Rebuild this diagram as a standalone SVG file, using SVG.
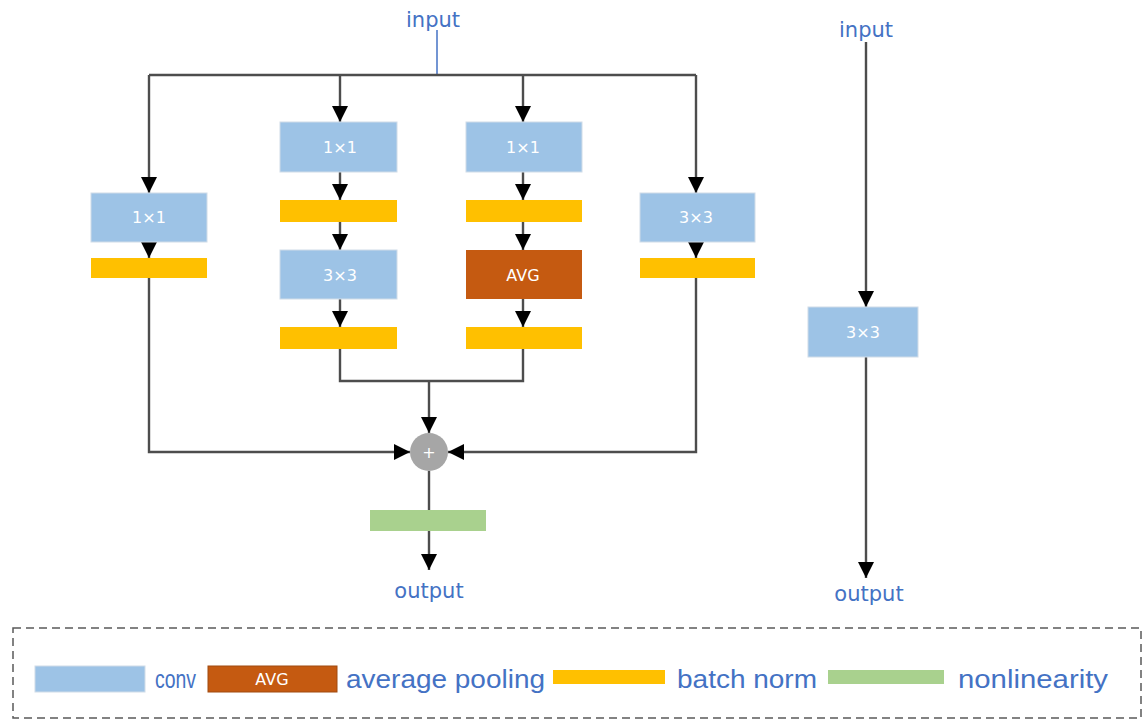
<svg xmlns="http://www.w3.org/2000/svg" width="1148" height="722" viewBox="0 0 1148 722">
<style>
.conv{fill:#9DC3E6;stroke:#D0DCE8;stroke-width:1}
.bn{fill:#FFC000}
.avg{fill:#C55A11}
.nl{fill:#A9D18E}
.bt{font-family:"DejaVu Sans","Liberation Sans",sans-serif;font-size:16px;fill:#FFFFFF;text-anchor:middle}
.io{font-family:"DejaVu Sans","Liberation Sans",sans-serif;font-size:21px;fill:#4472C4;text-anchor:middle}
.lg{font-family:"Liberation Sans",Arial,sans-serif;font-size:25px;fill:#4472C4}
.ln{fill:none;stroke:#4D4D4D;stroke-width:2.4}
.ar{marker-end:url(#ah)}
</style>
<defs>
<marker id="ah" viewBox="0 0 10 10" refX="10" refY="5" markerWidth="16" markerHeight="16" markerUnits="userSpaceOnUse" orient="auto">
<path d="M0,0 L10,5 L0,10 z" fill="#000"/>
</marker>
</defs>
<rect width="1148" height="722" fill="#FFFFFF"/>
<g id="connectors">
<line x1="437" y1="30" x2="437" y2="75" stroke="#4472C4" stroke-width="1.5"/>
<line class="ln" x1="149" y1="75" x2="696" y2="75"/>
<line class="ln ar" x1="149" y1="75" x2="149" y2="193"/>
<line class="ln ar" x1="149" y1="236" x2="149" y2="258"/>
<polyline class="ln ar" points="149,278 149,452 410,452"/>
<line class="ln ar" x1="340" y1="75" x2="340" y2="122"/>
<line class="ln ar" x1="340" y1="172" x2="340" y2="200"/>
<line class="ln ar" x1="340" y1="222" x2="340" y2="250"/>
<line class="ln ar" x1="340" y1="299" x2="340" y2="327"/>
<line class="ln ar" x1="523" y1="75" x2="523" y2="122"/>
<line class="ln ar" x1="523" y1="172" x2="523" y2="200"/>
<line class="ln ar" x1="523" y1="222" x2="523" y2="250"/>
<line class="ln ar" x1="523" y1="299" x2="523" y2="327"/>
<polyline class="ln" points="340,349 340,381 523,381 523,349"/>
<line class="ln ar" x1="429" y1="381" x2="429" y2="433"/>
<line class="ln ar" x1="696" y1="75" x2="696" y2="193"/>
<line class="ln ar" x1="696" y1="236" x2="696" y2="258"/>
<polyline class="ln ar" points="696,278 696,452 448,452"/>
<line class="ln" x1="429" y1="471" x2="429" y2="510"/>
<line class="ln ar" x1="429" y1="531" x2="429" y2="570"/>
<line class="ln ar" x1="866" y1="42" x2="866" y2="307"/>
<line class="ln ar" x1="866" y1="357" x2="866" y2="578"/>
</g>
<g id="input-left"><text class="io" x="433" y="27">input</text></g>
<g id="b1-conv"><rect class="conv" x="91" y="193" width="116" height="49"/><text class="bt" x="149" y="223">1×1</text></g>
<g id="b1-bn"><rect class="bn" x="91" y="258" width="116" height="20"/></g>
<g id="b2-conv1"><rect class="conv" x="280" y="122" width="117" height="50"/><text class="bt" x="340" y="153">1×1</text></g>
<g id="b2-bn1"><rect class="bn" x="280" y="200" width="117" height="22"/></g>
<g id="b2-conv3"><rect class="conv" x="280" y="250" width="117" height="49"/><text class="bt" x="340" y="281">3×3</text></g>
<g id="b2-bn2"><rect class="bn" x="280" y="327" width="117" height="22"/></g>
<g id="b3-conv1"><rect class="conv" x="466" y="122" width="116" height="50"/><text class="bt" x="523" y="153">1×1</text></g>
<g id="b3-bn1"><rect class="bn" x="466" y="200" width="116" height="22"/></g>
<g id="b3-avg"><rect class="avg" x="466" y="250" width="116" height="49"/><text class="bt" x="523" y="281">AVG</text></g>
<g id="b3-bn2"><rect class="bn" x="466" y="327" width="116" height="22"/></g>
<g id="b4-conv"><rect class="conv" x="640" y="193" width="115" height="49"/><text class="bt" x="696" y="223">3×3</text></g>
<g id="b4-bn"><rect class="bn" x="640" y="258" width="115" height="20"/></g>
<g id="plus"><ellipse cx="429" cy="452" rx="19" ry="19" fill="#A6A6A6"/><text class="bt" x="429" y="458" font-size="15">+</text></g>
<g id="nonlin"><rect class="nl" x="370" y="510" width="116" height="21"/></g>
<g id="output-left"><text class="io" x="429" y="598">output</text></g>
<g id="input-right"><text class="io" x="866" y="37">input</text></g>
<g id="right-conv"><rect class="conv" x="808" y="307" width="110" height="50"/><text class="bt" x="863" y="338">3×3</text></g>
<g id="output-right"><text class="io" x="869" y="601">output</text></g>
<g id="legend">
<rect x="13" y="628" width="1128" height="90" fill="none" stroke="#595959" stroke-width="1.5" stroke-dasharray="8,5"/>
<rect class="conv" x="35" y="666" width="110" height="26"/>
<text class="lg" x="155" y="688" textLength="41" lengthAdjust="spacingAndGlyphs">conv</text>
<rect class="avg" x="208" y="666" width="129" height="26" stroke="#A04A10" stroke-width="1"/>
<text class="bt" x="272" y="685" font-size="15">AVG</text>
<text class="lg" x="346" y="688" textLength="199" lengthAdjust="spacingAndGlyphs">average pooling</text>
<rect class="bn" x="553" y="670" width="112" height="14"/>
<text class="lg" x="677" y="688" textLength="140" lengthAdjust="spacingAndGlyphs">batch norm</text>
<rect class="nl" x="828" y="670" width="116" height="14"/>
<text class="lg" x="958" y="688" textLength="150" lengthAdjust="spacingAndGlyphs">nonlinearity</text>
</g>
</svg>
